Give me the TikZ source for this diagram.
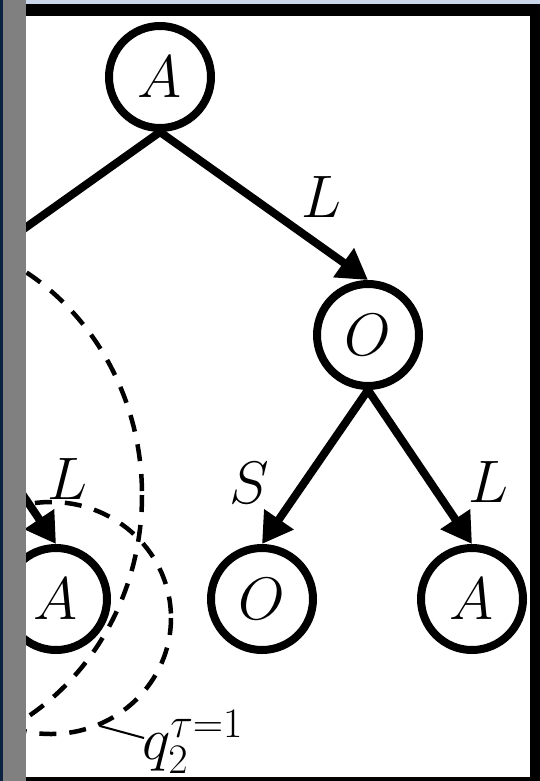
\RequirePackage{fix-cm}
\documentclass[tikz,border=0pt]{standalone}
\usetikzlibrary{arrows.meta}
\definecolor{navyedge}{HTML}{0B2240}
\definecolor{sidegray}{HTML}{808080}
\definecolor{topstrip}{HTML}{CAD6EA}
\tikzset{
  tn/.style={circle, draw, line width=8pt, minimum size=102pt, inner sep=0pt, fill=white,
             font=\fontsize{60}{60}\selectfont},
  lab/.style={inner sep=0pt, font=\fontsize{60}{60}\selectfont},
  edge/.style={line width=8pt, -{Triangle[length=30pt,width=34pt]}},
  dashline/.style={line width=4.5pt, dash pattern=on 17pt off 13pt},
  leader/.style={line width=2pt},
}
\begin{document}
\begin{tikzpicture}[x=1pt,y=-1pt]
\useasboundingbox (0,0) rectangle (540,781);
% window frame
\fill[navyedge] (0,0) rectangle (3,781);
\fill[sidegray] (3,0) rectangle (26,781);
\fill[topstrip] (26,0) rectangle (540,4);
\fill[black] (26,4) rectangle (540,16);
\fill[black] (530,16) rectangle (540,781);
\fill[black] (26,777) rectangle (530,781);
\fill[white] (26,16) rectangle (530,777);
\begin{scope}
\clip (26,16) rectangle (530,777);
% dashed regions
\draw[dashline] (-100,495) ellipse [x radius=242, y radius=261];
\draw[dashline] (51,618) ellipse [x radius=120, y radius=116];
% tree nodes
\node[tn] (root) at (160,77) {$A$};
\node[tn] (hid) at (-48,335) {};
\node[tn] (oR) at (368,335) {$O$};
\node[tn] (aL) at (56,599) {$A$};
\node[tn] (oB) at (262,599) {$O$};
\node[tn] (aR) at (472,599) {$A$};
% edges
\draw[edge] (root.south) -- (hid.north);
\draw[edge] (root.south) -- (oR.north);
\draw[edge] (hid.south) -- (aL.north);
\draw[edge] (oR.south) -- (oB.north);
\draw[edge] (oR.south) -- (aR.north);
% edge labels
\node[lab] (l1) at (321,197) {$L$};
\node[lab] (l2) at (67,479) {$L$};
\node[lab] (l3) at (249,483) {$S$};
\node[lab] (l4) at (488,482) {$L$};
\coordinate (qstart) at (144,738);
\coordinate (leadend) at (100,726);
\draw[leader] (qstart) -- (leadend);
\end{scope}
% q label
\node[lab, anchor=base west] (q2) at (142,759) {$q_2^{\tau=1}$};
\end{tikzpicture}
\end{document}
